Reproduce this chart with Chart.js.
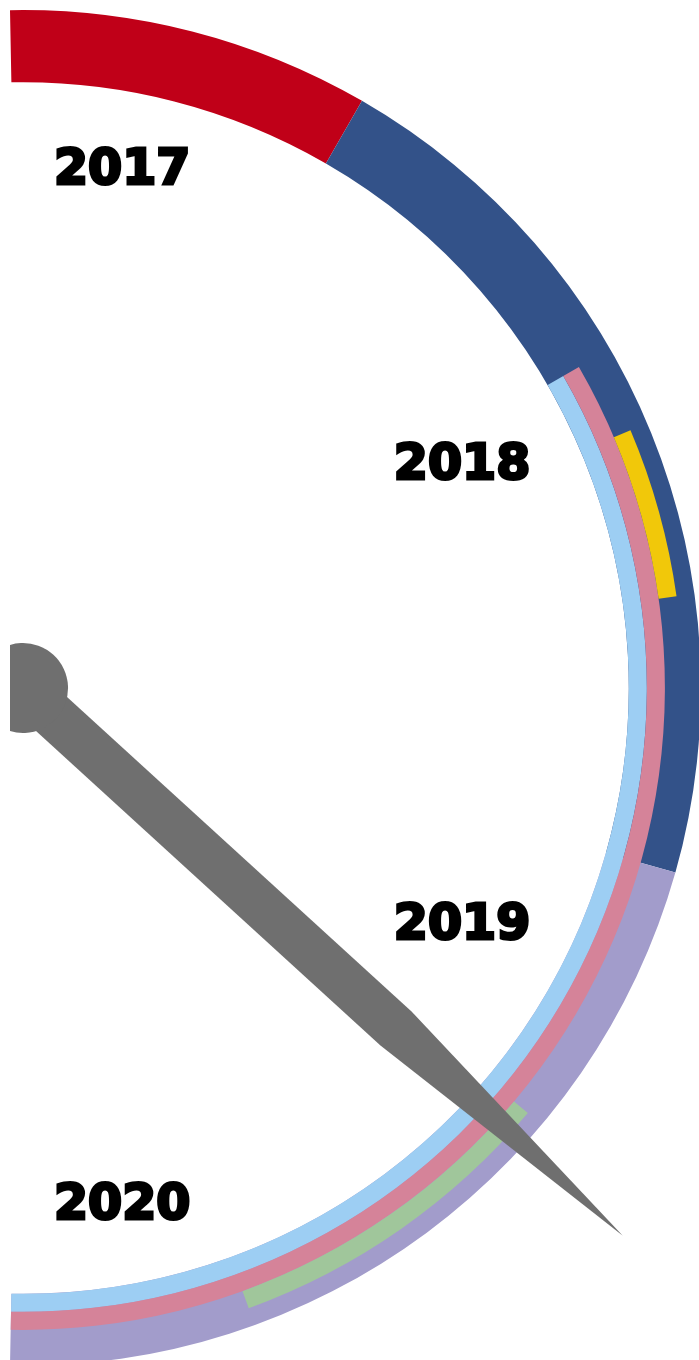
<!DOCTYPE html>
<html>
<head>
<meta charset="utf-8">
<script src="https://cdn.jsdelivr.net/npm/chart.js@4.4.1/dist/chart.umd.min.js"></script>
<style>
  html, body { margin: 0; padding: 0; background: #fff; overflow: hidden; }
  #wrap { position: relative; width: 699px; height: 1360px; overflow: hidden; }
  #wrap canvas { position: absolute; left: 10px; top: 10px; }
</style>
</head>
<body>
<div id="wrap">
  <canvas id="bandChart" width="691" height="1356"></canvas>
  <canvas id="ringChart" width="691" height="1356"></canvas>
</div>
<script>
// gauge scale: 0 = top, 180 = bottom
var scaleMax = 180;
var yearLabels = ['2017', '2018', '2019', '2020'];

// outer band
var bandValues = [30, 75.8, 74.2];
var bandColors = ['#C00018', '#335289', '#A29CCB'];

// inner rings as [start, end] on the scale
var lightBlueSpans = [[60, 180]];
var pinkSpans = [[60, 180]];
var markerSpans = [[67, 82], [130.1, 160]];
var markerColors = ['#F1C80A', '#A0C69B'];

var needleValue = 132.4;

var overhang = 1.1; // ring runs a little past top and bottom (cut by the page edge)
var clear = 'rgba(0,0,0,0)';

function withOverhang(values) {
    var v = values.slice();
    v[0] += overhang;
    v[v.length - 1] += overhang;
    return v;
}

function spansToRing(spans, colors) {
    var data = [], bg = [], pos = 0;
    spans.forEach(function(s, i) {
        if (s[0] > pos) { data.push(s[0] - pos); bg.push(clear); }
        data.push(s[1] - s[0]);
        bg.push(colors[i % colors.length]);
        pos = s[1];
    });
    if (pos < scaleMax) { data.push(scaleMax - pos); bg.push(clear); }
    return { data: withOverhang(data), backgroundColor: bg };
}

function gaugeOptions() {
    return {
        responsive: false,
        animation: false,
        events: [],
        rotation: -overhang,
        circumference: scaleMax + 2 * overhang,
        cutout: '89.35%',
        layout: { padding: 0 },
        plugins: { legend: { display: false }, tooltip: { enabled: false } },
        elements: { arc: { borderWidth: 0, offset: 0, hoverOffset: 0 } }
    };
}

var needlePlugin = {
    id: 'needle',
    afterDatasetsDraw: function(chart) {
        var arc = chart.getDatasetMeta(0).data[0];
        var cx = arc.x, cy = arc.y, r = arc.outerRadius;
        var ctx = chart.ctx;
        var a = -Math.PI / 2 + needleValue / scaleMax * Math.PI;
        var w = r * 0.034, shaft = r * 0.745, tip = r * 1.198;

        ctx.save();
        ctx.translate(cx, cy);
        ctx.rotate(a);
        ctx.fillStyle = '#6F6F6F';
        ctx.beginPath();
        ctx.moveTo(0, -w);
        ctx.lineTo(shaft, -w);
        ctx.lineTo(tip, 0);
        ctx.lineTo(shaft, w);
        ctx.lineTo(0, w);
        ctx.closePath();
        ctx.fill();
        ctx.beginPath();
        ctx.arc(0, 0, r * 0.0664, 0, Math.PI * 2);
        ctx.fill();
        ctx.restore();
    }
};

var yearLabelPlugin = {
    id: 'yearLabels',
    afterDraw: function(chart) {
        var arc = chart.getDatasetMeta(0).data[0];
        var cx = arc.x, cy = arc.y, r = arc.outerRadius;
        var ctx = chart.ctx;
        // label anchors relative to the gauge centre, in radius units
        var at = [[0.0457, -0.744], [0.547, -0.309], [0.547, 0.3695], [0.0457, 0.7825]];
        ctx.save();
        ctx.fillStyle = '#000';
        ctx.strokeStyle = '#000';
        ctx.lineWidth = 3; // heavier strokes, like a black-weight face
        ctx.lineJoin = 'miter';
        ctx.font = 'bold ' + Math.round(r * 0.0723) + 'px "DejaVu Sans"';
        ctx.textAlign = 'left';
        ctx.textBaseline = 'alphabetic';
        yearLabels.forEach(function(t, i) {
            var x = cx + at[i][0] * r, y = cy + at[i][1] * r;
            ctx.strokeText(t, x, y);
            ctx.fillText(t, x, y);
        });
        ctx.restore();
    }
};

// base band: the years
new Chart(document.getElementById('bandChart'), {
    type: 'doughnut',
    data: {
        labels: ['2017', '2018', '2019-2020'],
        datasets: [{ data: withOverhang(bandValues), backgroundColor: bandColors }]
    },
    options: gaugeOptions()
});

// inner rings laid over the band, plus needle and labels
var outerEmpty = { data: [scaleMax + 2 * overhang], backgroundColor: [clear] };
new Chart(document.getElementById('ringChart'), {
    type: 'doughnut',
    data: {
        datasets: [
            outerEmpty,
            spansToRing(markerSpans, markerColors),
            spansToRing(pinkSpans, ['#D58399']),
            spansToRing(lightBlueSpans, ['#9DCEF3'])
        ]
    },
    options: gaugeOptions(),
    plugins: [needlePlugin, yearLabelPlugin]
});
</script>
</body>
</html>
